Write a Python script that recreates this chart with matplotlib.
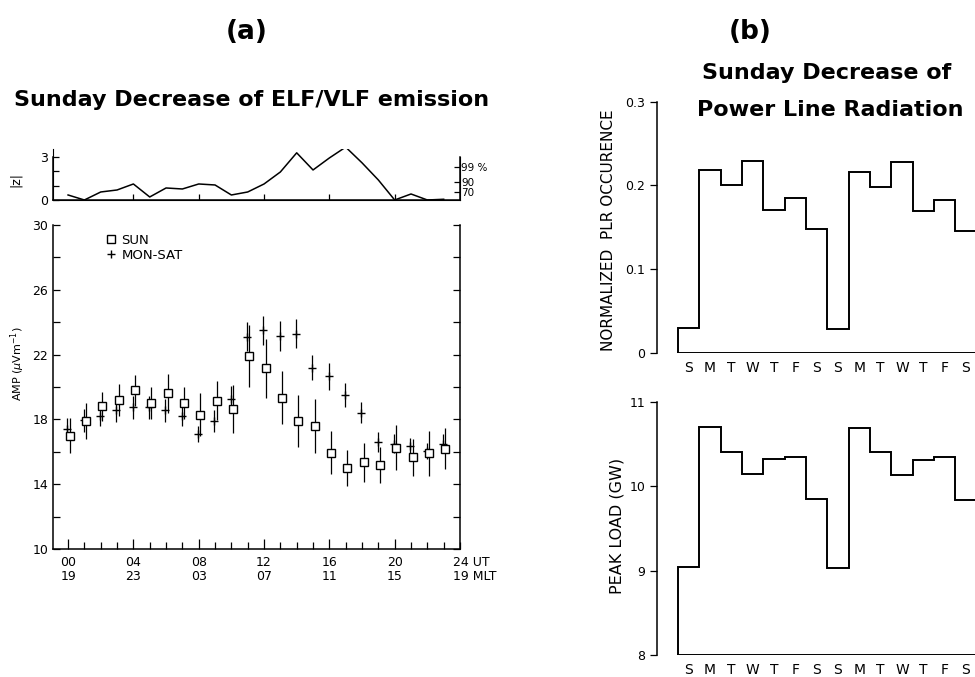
import numpy as np
import matplotlib.pyplot as plt
from matplotlib.lines import Line2D

plt.rcParams['font.family'] = ['DejaVu Sans']

# ---- (a) hourly ELF/VLF amplitude (UT hour 0..23) ----
hours = np.arange(24)
sun_amp = [17.0, 17.9, 18.8, 19.2, 19.8, 19.0, 19.6, 19.0, 18.3, 19.15, 18.65, 21.9,
           21.15, 19.35, 17.9, 17.6, 15.95, 15.0, 15.35, 15.2, 16.25, 15.65, 15.9, 16.2]
sun_err = [1.1, 1.1, 0.9, 1.0, 0.95, 1.0, 1.2, 1.0, 1.3, 1.2, 1.5, 1.9,
           1.8, 1.65, 1.6, 1.65, 1.35, 1.1, 1.2, 1.1, 1.4, 1.15, 1.4, 1.25]
wk_amp = [17.4, 17.95, 18.2, 18.55, 18.75, 18.75, 18.55, 18.2, 17.1, 17.9, 19.25, 23.1,
          23.5, 23.15, 23.3, 21.2, 20.65, 19.5, 18.4, 16.6, 16.5, 16.35, 16.05, 16.5]
wk_err = [0.7, 0.7, 0.6, 0.7, 0.7, 0.7, 0.7, 0.6, 0.5, 0.7, 0.8, 0.9,
          0.9, 0.9, 0.9, 0.75, 0.85, 0.75, 0.65, 0.6, 0.6, 0.5, 0.5, 0.6]

# significance |z| of the Sunday difference
z_abs = [0.35, 0.0, 0.56, 0.7, 1.12, 0.21, 0.84, 0.77, 1.12, 1.05, 0.35, 0.56,
         1.12, 1.96, 3.3, 2.1, 2.94, 3.7, 2.6, 1.4, 0.0, 0.42, 0.0, 0.05]
# one-sided confidence levels
sig_levels = [0.524, 1.282, 2.326]
sig_labels = ['70', '90', '99 %']

ut_labels = ['00\n19', '04\n23', '08\n03', '12\n07', '16\n11', '20\n15']

# ---- (b) weekly power line radiation and peak load ----
days = ['S', 'M', 'T', 'W', 'T', 'F', 'S', 'S', 'M', 'T', 'W', 'T', 'F', 'S']
plr = [0.030, 0.218, 0.200, 0.229, 0.171, 0.185, 0.148,
       0.029, 0.216, 0.198, 0.228, 0.169, 0.183, 0.146]
load = [9.04, 10.70, 10.40, 10.14, 10.32, 10.35, 9.85,
        9.03, 10.69, 10.40, 10.13, 10.31, 10.34, 9.84]

fig = plt.figure(figsize=(9.75, 6.77), dpi=100)

# main amplitude panel
ax = fig.add_axes([0.0544, 0.1891, 0.4174, 0.4786])
ax.errorbar(hours - 0.05, wk_amp, yerr=wk_err, fmt='+', color='black', ms=6,
            mew=1.0, elinewidth=0.9, capsize=0, zorder=2)
ax.errorbar(hours + 0.1, sun_amp, yerr=sun_err, fmt='s', color='black', ms=5.5,
            mfc='white', mec='black', mew=1.0, elinewidth=0.9, capsize=0, zorder=3)
ax.set_xlim(-0.92, 24)
ax.set_ylim(10, 30)
ax.spines['top'].set_visible(False)
for s in ax.spines.values():
    s.set_linewidth(1.1)
ax.set_xticks(range(0, 24, 4))
ax.set_xticklabels(ut_labels, linespacing=1.1)
ax.set_xticks(range(0, 25), minor=True)
ax.set_yticks(range(10, 31, 4))
ax.set_yticks(range(10, 31, 2), minor=True)
ax.tick_params(axis='both', which='both', direction='in', labelsize=9, width=0.9)
ax.tick_params(axis='x', which='major', length=7, pad=5)
ax.tick_params(axis='x', which='minor', length=5)
ax.tick_params(axis='y', which='both', length=5, right=True)
ax.text(23.55, 9.55, '24 UT\n19 MLT', ha='left', va='top', fontsize=9,
        linespacing=1.1)
ax.set_ylabel(r'AMP ($\mu$Vm$^{-1}$)', fontsize=8)
ax.yaxis.set_label_coords(-0.064, 0.571)
handles = [Line2D([], [], marker='s', ls='none', mfc='white', mec='black', ms=5.5),
           Line2D([], [], marker='+', ls='none', color='black', ms=6)]
ax.legend(handles, ['SUN', 'MON-SAT'], loc='upper left', bbox_to_anchor=(0.1, 1.01),
          frameon=False, fontsize=9.5, handlelength=0.8, handletextpad=0.4,
          labelspacing=0.15)

# |z| panel above
axz = fig.add_axes([0.0544, 0.7046, 0.4174, 0.076])
axz.plot(hours, z_abs, color='black', lw=1.1)
axz.set_xlim(-0.92, 24)
axz.set_ylim(0, 3.6)
axz.spines['top'].set_visible(False)
for s in axz.spines.values():
    s.set_linewidth(1.1)
axz.spines['left'].set_bounds(0, 3)
axz.spines['right'].set_bounds(0, 3)
axz.set_xticks(range(4, 24, 4))
axz.set_xticklabels([])
axz.set_yticks([0, 1, 2, 3])
axz.set_yticklabels(['0', '', '', '3'])
axz.tick_params(direction='in', length=4, labelsize=9, width=0.9)
axz.set_ylabel('|z|', fontsize=9)
axz.yaxis.set_label_coords(-0.076, 0.39)
axr = axz.twinx()
axr.set_ylim(0, 3.6)
axr.spines['top'].set_visible(False)
axr.spines['right'].set_bounds(0, 3)
axr.set_yticks(sig_levels)
axr.set_yticklabels(sig_labels)
axr.tick_params(direction='in', length=4, labelsize=7.5, pad=1, width=0.9)

fig.text(0.2533, 0.9527, '(a)', ha='center', va='center', fontsize=19,
         fontweight='bold')
fig.text(0.258, 0.8523, 'Sunday Decrease of ELF/VLF emission', ha='center',
         va='center', fontsize=16, fontweight='bold')

# (b) panels
edges = np.arange(len(days) + 1)
centers = edges[:-1] + 0.5


def step_panel(rect, values, base, top, yticks, ylabels, ylabel, lsize):
    a = fig.add_axes(rect)
    a.stairs(values, edges, baseline=base, color='black', lw=1.4)
    a.plot([edges[0], edges[-1]], [base, base], color='black', lw=1.4)
    a.set_xlim(-0.99, 14.1)
    a.set_ylim(base, top)
    for side in ['top', 'right', 'bottom']:
        a.spines[side].set_visible(False)
    a.spines['left'].set_linewidth(1.1)
    a.set_yticks(yticks)
    a.set_yticklabels(ylabels)
    a.tick_params(axis='y', direction='out', length=5, labelsize=9, width=0.9)
    a.set_xticks(centers)
    a.set_xticklabels(days, fontsize=10)
    a.tick_params(axis='x', length=0, pad=6)
    a.set_ylabel(ylabel, fontsize=lsize)
    return a


ax1 = step_panel([0.6738, 0.4786, 0.33, 0.3712], plr, 0, 0.3,
                 [0, 0.1, 0.2, 0.3], ['0', '0.1', '0.2', '0.3'],
                 'NORMALIZED  PLR OCCURENCE', 11)
ax1.yaxis.set_label_coords(-0.128, 0.49)
ax2 = step_panel([0.6738, 0.0325, 0.33, 0.3742], load, 8, 11,
                 [8, 9, 10, 11], ['8', '9', '10', '11'], 'PEAK LOAD (GW)', 11.5)
ax2.yaxis.set_label_coords(-0.1, 0.51)

fig.text(0.769, 0.9527, '(b)', ha='center', va='center', fontsize=19,
         fontweight='bold')
fig.text(0.848, 0.8922, 'Sunday Decrease of', ha='center', va='center',
         fontsize=16, fontweight='bold')
fig.text(0.852, 0.8375, 'Power Line Radiation', ha='center', va='center',
         fontsize=16, fontweight='bold')

fig.savefig('out.png', dpi=100)
